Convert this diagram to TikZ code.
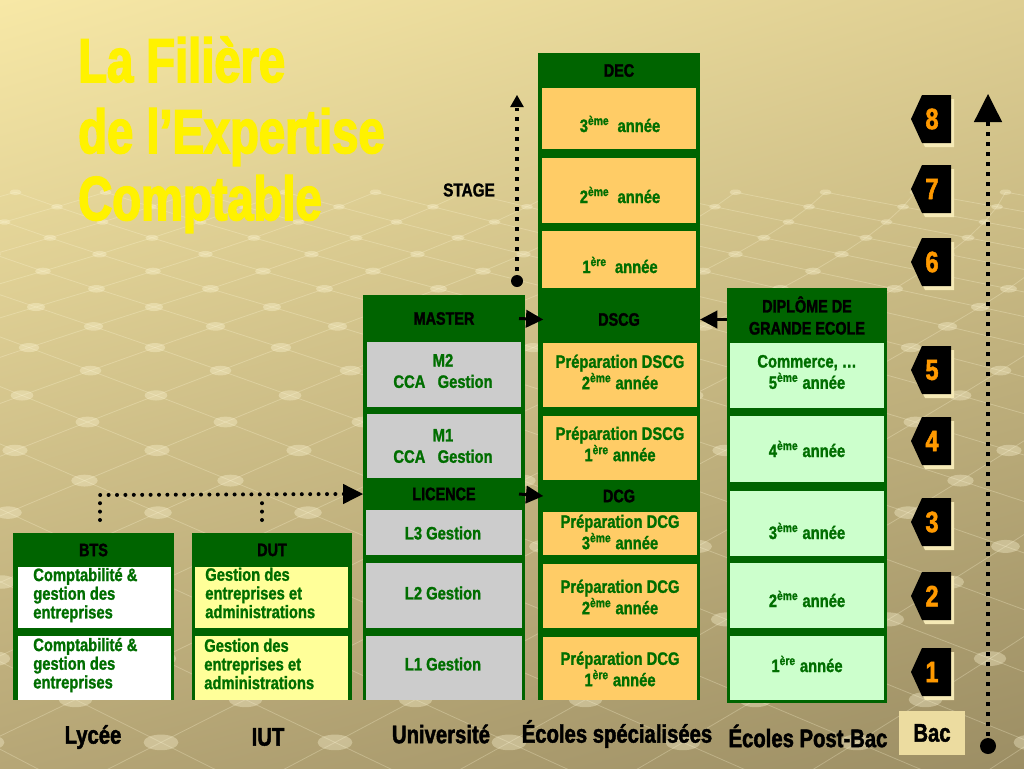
\documentclass[tikz,border=0pt]{standalone}
\usepackage{fontspec}
\setmainfont{Liberation Sans}
\newfontfamily\nar{Liberation Sans}[FakeStretch=0.82,FakeBold=1.3]
\newfontfamily\narh{Liberation Sans}[FakeStretch=0.8,FakeBold=1.8]
\newfontfamily\ttl{Liberation Sans}[FakeStretch=0.76,FakeBold=2.5]
\usetikzlibrary{arrows.meta,shadings}
\definecolor{gr}{RGB}{0,100,0}
\definecolor{txtg}{RGB}{0,110,0}
\definecolor{orng}{RGB}{255,204,102}
\definecolor{greyc}{RGB}{204,204,204}
\definecolor{lgreen}{RGB}{204,255,204}
\definecolor{lyel}{RGB}{255,255,153}
\definecolor{numor}{RGB}{255,153,0}
\definecolor{bacbg}{RGB}{236,220,160}
\definecolor{shadowc}{RGB}{246,234,182}
\definecolor{bgul}{RGB}{247,232,166}
\definecolor{bgur}{RGB}{222,206,146}
\definecolor{bgll}{RGB}{182,166,118}
\definecolor{bglr}{RGB}{156,142,100}
\definecolor{gridc}{RGB}{255,248,215}
\newcommand\cellbox[6]{\node[#6, minimum width={(#4-#2)*0.75pt}, minimum height={(#5-#3)*0.75pt}] (#1) at ({(#2+#4)/2},{(#3+#5)/2}) {};}
\newcommand\headbox[6]{\node[head, minimum width={(#4-#2)*0.75pt}, minimum height={(#5-#3)*0.75pt}] (#1) at ({(#2+#4)/2},{(#3+#5)/2}) {#6};}
\newcommand\badge[3]{%
  \fill[shadowc] (925,{#2-20}) -- (954,{#2-20}) -- (954,{#2+28}) -- (925,{#2+28}) -- (914,{#2+4}) -- cycle;
  \fill[black] (922,{#2-24}) -- (951,{#2-24}) -- (951,{#2+24}) -- (922,{#2+24}) -- (911,#2) -- cycle;
  \node[numf] (#1) at (932,#2) {#3};}
\newcommand\sur[1]{\textsuperscript{#1}}
\begin{document}
\begin{tikzpicture}[x=0.75pt,y=-0.75pt,
  fillbox/.style={inner sep=0pt, draw=none, outer sep=0pt},
  head/.style={inner sep=0pt, outer sep=0pt, align=center, text=black, font=\narh\bfseries\fontsize{13.5}{16.5}\selectfont},
  celltxt/.style={inner sep=0pt, align=center, text=txtg, font=\nar\bfseries\fontsize{13.5}{16}\selectfont},
  lefttxt/.style={inner sep=0pt, align=left, anchor=west, text=txtg, font=\nar\bfseries\fontsize{13.5}{14}\selectfont},
  bottomlbl/.style={inner sep=0pt, text=black, font=\narh\bfseries\fontsize{19}{22}\selectfont},
  titlef/.style={inner sep=0pt, anchor=base west, text=yellow, font=\ttl\bfseries\fontsize{46.5}{52}\selectfont},
  numf/.style={inner sep=0pt, text=numor, font=\narh\bfseries\fontsize{22}{24}\selectfont},
  bigtip/.style={line width=2.25pt, -{Triangle[length=13pt,width=13pt]}},
  rdots/.style={line width=3pt, line cap=round, dash pattern=on 0pt off 6.3pt},
  sqdots/.style={line width=3pt, dash pattern=on 3pt off 4.5pt},
  gridline/.style={gridc, opacity=0.28, line width=0.6pt},
  gridball/.style={gridc, opacity=0.35}
]
\useasboundingbox (0,0) rectangle (1024,768);
% background
\shade[upper left=bgul, upper right=bgur, lower left=bgll, lower right=bglr] (0,0) rectangle (1024,768);
\begin{scope}
  \clip (0,165) rectangle (1024,768);
  \foreach \k in {-7,...,14} {
    \pgfmathsetmacro{\yk}{307+18.5*\k+(\k>0)*0.9*\k*\k+(\k<0)*0.3*\k*\k}
    \pgfmathsetmacro{\yn}{307+18.5*(\k+1)+((\k+1)>0)*0.9*(\k+1)*(\k+1)+((\k+1)<0)*0.3*(\k+1)*(\k+1)}
    \pgfmathsetmacro{\sk}{118+4*\k}
    \pgfmathsetmacro{\sn}{118+4*(\k+1)}
    \pgfmathsetmacro{\ck}{36-3.5*\k}
    \pgfmathsetmacro{\cn}{36-3.5*(\k+1)}
    \pgfmathsetmacro{\hk}{mod(\k+20,2)/2}
    \pgfmathsetmacro{\rx}{max(6,9+0.6*\k)}
    \foreach \n in {-2,...,10} {
      \pgfmathsetmacro{\xk}{\ck+(\n+\hk)*\sk}
      \pgfmathsetmacro{\xr}{\cn+(\n+\hk+0.5)*\sn}
      \pgfmathsetmacro{\xl}{\cn+(\n+\hk-0.5)*\sn}
      \draw[gridline] (\xk,\yk) -- (\xr,\yn);
      \draw[gridline] (\xk,\yk) -- (\xl,\yn);
      \fill[gridball] (\xk,\yk) ellipse [x radius=\rx, y radius=0.45*\rx];
    }
  }
\end{scope}
% title
\node[titlef] (title1) at (78,82) {La Filière};
\node[titlef] (title2) at (78,153) {de l’Expertise};
\node[titlef] (title3) at (78,220) {Comptable};
% column BTS
\cellbox{colbts}{13}{533}{174}{700}{fillbox,fill=gr}
\cellbox{bts1}{18}{567}{171}{628}{fillbox,fill=white}
\cellbox{bts2}{18}{636}{171}{700}{fillbox,fill=white}
\headbox{hbts}{13}{533}{174}{567}{BTS}
\node[lefttxt] (bts1t) at (33,595) {Comptabilité \&\\gestion des\\entreprises};
\node[lefttxt] (bts2t) at (33,665) {Comptabilité \&\\gestion des\\entreprises};
% column DUT
\cellbox{coldut}{192}{533}{352}{700}{fillbox,fill=gr}
\cellbox{dut1}{195}{567}{348}{628}{fillbox,fill=lyel}
\cellbox{dut2}{195}{636}{348}{700}{fillbox,fill=lyel}
\headbox{hdut}{192}{533}{352}{567}{DUT}
\node[lefttxt] (dut1t) at (205,593) {Gestion des\\entreprises et\\administrations};
\node[lefttxt] (dut2t) at (204,664) {Gestion des\\entreprises et\\administrations};
% column Universite
\cellbox{coluni}{363}{295}{525}{700}{fillbox,fill=gr}
\cellbox{m2}{367}{342}{521}{407}{fillbox,fill=greyc}
\cellbox{m1}{367}{414}{521}{478}{fillbox,fill=greyc}
\cellbox{l3}{366}{510}{522}{555}{fillbox,fill=greyc}
\cellbox{l2}{366}{563}{522}{628}{fillbox,fill=greyc}
\cellbox{l1}{366}{636}{522}{700}{fillbox,fill=greyc}
\headbox{hmaster}{363}{295}{525}{342}{MASTER}
\headbox{hlicence}{363}{478}{525}{510}{LICENCE}
\node[celltxt] (m2t) at (443,371) {M2\\CCA\ \ \ Gestion};
\node[celltxt] (m1t) at (443,446) {M1\\CCA\ \ \ Gestion};
\node[celltxt] (l3t) at (443,533) {L3 Gestion};
\node[celltxt] (l2t) at (443,593) {L2 Gestion};
\node[celltxt] (l1t) at (443,664) {L1 Gestion};
% column Ecoles specialisees
\cellbox{colec}{538}{53}{700}{700}{fillbox,fill=gr}
\cellbox{dec3}{542}{88}{696}{149}{fillbox,fill=orng}
\cellbox{dec2}{542}{158}{696}{223}{fillbox,fill=orng}
\cellbox{dec1}{542}{231}{696}{288}{fillbox,fill=orng}
\cellbox{ds2}{543}{343}{697}{407}{fillbox,fill=orng}
\cellbox{ds1}{543}{416}{697}{480}{fillbox,fill=orng}
\cellbox{dg3}{543}{512}{697}{555}{fillbox,fill=orng}
\cellbox{dg2}{543}{564}{697}{628}{fillbox,fill=orng}
\cellbox{dg1}{543}{637}{697}{700}{fillbox,fill=orng}
\headbox{hdec}{538}{53}{700}{88}{DEC}
\headbox{hdscg}{538}{296}{700}{343}{DSCG}
\headbox{hdcg}{538}{480}{700}{512}{DCG}
\node[celltxt] (dec3t) at (620,124) {3\sur{ème}\ \ année};
\node[celltxt] (dec2t) at (620,195) {2\sur{ème}\ \ année};
\node[celltxt] (dec1t) at (620,265) {1\sur{ère}\ \ année};
\node[celltxt] (ds2t) at (620,372) {Préparation DSCG\\2\sur{ème} année};
\node[celltxt] (ds1t) at (620,444) {Préparation DSCG\\1\sur{ère} année};
\node[celltxt] (dg3t) at (620,532) {Préparation DCG\\3\sur{ème} année};
\node[celltxt] (dg2t) at (620,597) {Préparation DCG\\2\sur{ème} année};
\node[celltxt] (dg1t) at (620,669) {Préparation DCG\\1\sur{ère} année};
% column Ecoles Post-Bac
\cellbox{colpb}{727}{288}{887}{703}{fillbox,fill=gr}
\cellbox{pb5}{730}{343}{884}{408}{fillbox,fill=lgreen}
\cellbox{pb4}{730}{416}{884}{482}{fillbox,fill=lgreen}
\cellbox{pb3}{730}{491}{884}{556}{fillbox,fill=lgreen}
\cellbox{pb2}{730}{563}{884}{628}{fillbox,fill=lgreen}
\cellbox{pb1}{730}{636}{884}{700}{fillbox,fill=lgreen}
\headbox{hdipl}{727}{288}{887}{343}{DIPLÔME DE\\GRANDE ECOLE}
\node[celltxt] (pb5t) at (807,372) {Commerce, …\\5\sur{ème} année};
\node[celltxt] (pb4t) at (807,449) {4\sur{ème} année};
\node[celltxt] (pb3t) at (807,531) {3\sur{ème} année};
\node[celltxt] (pb2t) at (807,599) {2\sur{ème} année};
\node[celltxt] (pb1t) at (807,664) {1\sur{ère} année};
% arrows between headers
\draw[bigtip] ([xshift=-4.5pt]hmaster.east) -- ([xshift=4pt]hdscg.west);
\draw[bigtip] ([xshift=-4.5pt]hlicence.east) -- ([xshift=4pt]hdcg.west);
\draw[bigtip] (hdipl.west |- hdscg.east) -- (hdscg.east);
% dotted from BTS and DUT
\coordinate (btsup) at (100,520);
\coordinate (btsturn) at (100,495);
\coordinate (dutup) at (262,520);
\coordinate (dutturn) at (262,495);
\draw[rdots] (btsup) -- (btsturn) -- ([xshift=-14pt]hlicence.west);
\draw[rdots] (dutup) -- (dutturn);
\draw[line width=1pt, -{Triangle[length=15pt,width=15pt]}] ([xshift=-15pt]hlicence.west) -- (hlicence.west);
% STAGE arrow
\node[circle, fill=black, minimum size=9pt, inner sep=0pt] (stagedot) at (517,281) {};
\coordinate (stagetop) at (517,95);
\draw[sqdots] (stagedot.center) -- (517,108);
\draw[line width=1pt, -{Triangle[length=9pt,width=10pt]}] (517,106) -- (stagetop);
\node[inner sep=0pt, text=black, font=\nar\bfseries\fontsize{14}{16}\selectfont] (stage) at (469,190) {STAGE};
% right axis
\node[circle, fill=black, minimum size=12pt, inner sep=0pt] (axisdot) at (988,746) {};
\coordinate (axistop) at (988,94);
\draw[sqdots] (axisdot.center) -- (988,122);
\draw[line width=1pt, -{Triangle[length=21pt,width=21pt]}] (988,120) -- (axistop);
% badges
\badge{n8}{119}{8}
\badge{n7}{189}{7}
\badge{n6}{262}{6}
\badge{n5}{370}{5}
\badge{n4}{441}{4}
\badge{n3}{522}{3}
\badge{n2}{596}{2}
\badge{n1}{672}{1}
% bottom labels
\node[bottomlbl] (lycee) at (93,737) {Lycée};
\node[bottomlbl] (iut) at (268,737) {IUT};
\node[bottomlbl] (univ) at (441,734) {Université};
\node[bottomlbl] (ecsp) at (617,734) {Écoles spécialisées};
\node[bottomlbl] (ecpb) at (808,736) {Écoles Post-Bac};
\node[bottomlbl, fill=bacbg, minimum width={66*0.75pt}, minimum height={44*0.75pt}] (bac) at (932,733) {Bac};
\end{tikzpicture}
\end{document}
